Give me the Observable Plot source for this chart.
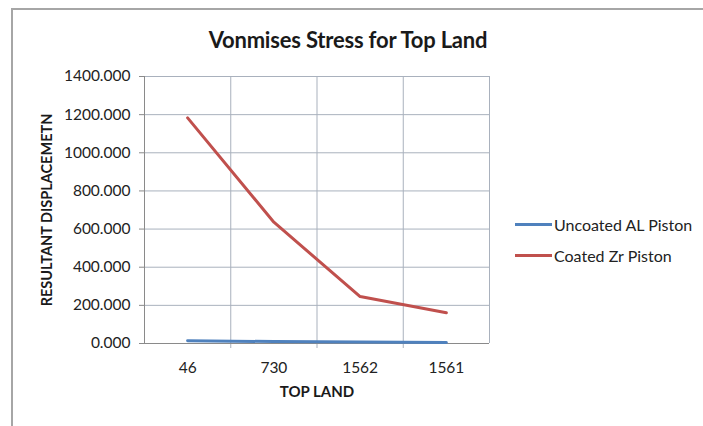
<!DOCTYPE html>
<html>
<head>
<meta charset="utf-8">
<script src="https://cdn.jsdelivr.net/npm/d3@7"></script>
<script src="https://cdn.jsdelivr.net/npm/@observablehq/plot@0.6"></script>
<style>
  html, body { margin: 0; padding: 0; background: #fff; }
  #chart {
    position: relative; width: 703px; height: 426px; overflow: hidden;
    font-family: Lato, "Open Sans", sans-serif; color: #222;
  }
  #frame {
    position: absolute; left: 11px; top: 8px; right: -4px; bottom: -4px;
    border-left: 2px solid #a6a6a6; border-top: 2px solid #a6a6a6;
  }
  #title {
    position: absolute; left: 0; right: 7px; top: 26px; text-align: center;
    font-size: 22px; font-weight: bold; color: #1a1a1a; letter-spacing: -0.2px;
  }
  #plot { position: absolute; left: 0; top: 0; }
  #legend { position: absolute; left: 515px; top: 209px; font-size: 16px; color: #222; }
  .item { display: flex; align-items: center; height: 31px; }
  .swatch { width: 37px; height: 3px; margin-right: 2px; }
</style>
</head>
<body>
<div id="chart">
  <div id="frame"></div>
  <div id="title">Vonmises Stress for Top Land</div>
  <div id="plot"></div>
  <div id="legend"></div>
</div>
<script>
// Top land positions (category labels along the x axis)
const categories = ["46", "730", "1562", "1561"];
// Series values
const uncoatedAL = [15, 10, 8, 5];
const coatedZr = [1183, 636, 246, 161];
const seriesNames = ["Uncoated AL Piston", "Coated Zr Piston"];
const seriesColors = ["#4f81bd", "#c0504d"];
const yTicks = [0, 200, 400, 600, 800, 1000, 1200, 1400];

const rows = [];
[uncoatedAL, coatedZr].forEach((vals, s) =>
  vals.forEach((v, i) => rows.push({series: seriesNames[s], index: i, value: v}))
);
// Category boundaries between the bands
const boundaries = d3.range(1, categories.length).map(i => i - 0.5);

const plot = Plot.plot({
  width: 703,
  height: 426,
  marginLeft: 144,
  marginRight: 214,
  marginTop: 76,
  marginBottom: 83,
  style: {fontFamily: "Lato, 'Open Sans', sans-serif", fontSize: "15.5px", color: "#222", background: "transparent"},
  x: {domain: [-0.5, categories.length - 0.5], ticks: d3.range(categories.length), tickFormat: i => categories[i], label: null},
  y: {domain: [0, 1400], ticks: yTicks, tickFormat: d3.format(".3f"), label: null},
  color: {domain: seriesNames, range: seriesColors},
  marks: [
    Plot.ruleY(yTicks.filter(t => t > 0), {stroke: "#a9b1bd", strokeWidth: 1, strokeOpacity: 1}),
    Plot.ruleX(boundaries, {stroke: "#a9b1bd", strokeWidth: 1, insetBottom: -5}),
    Plot.ruleX([categories.length - 0.5], {stroke: "#a9b1bd", strokeWidth: 1}),
    Plot.axisY({ticks: yTicks, tickFormat: d3.format(".3f"), tickSize: 5, tickPadding: 9, stroke: "#8a8a8a", fontSize: 15.5, fill: "#222"}),
    Plot.axisX({ticks: d3.range(categories.length), tickFormat: i => categories[i], tickSize: 0, tickPadding: 18, fontSize: 15.5, fill: "#222"}),
    Plot.ruleX([-0.5], {stroke: "#8a8a8a", strokeWidth: 1, insetBottom: -1}),
    Plot.ruleY([0], {stroke: "#8a8a8a", strokeWidth: 1, insetLeft: -5}),
    Plot.line(rows, {x: "index", y: "value", z: "series", stroke: "series", strokeWidth: 3, strokeLinejoin: "round"}),
    Plot.text(["TOP LAND"], {frameAnchor: "bottom", dy: 53, fontSize: 15, fontWeight: "bold", fill: "#1a1a1a"}),
    Plot.text(["RESULTANT DISPLACEMETN"], {frameAnchor: "left", dx: -97, rotate: -90, textAnchor: "middle", fontSize: 14.5, fontWeight: "bold", fill: "#1a1a1a"})
  ]
});
document.getElementById("plot").append(plot);

const legend = document.getElementById("legend");
seriesNames.forEach((name, i) => {
  const item = document.createElement("div");
  item.className = "item";
  const sw = document.createElement("span");
  sw.className = "swatch";
  sw.style.background = seriesColors[i];
  const label = document.createElement("span");
  label.textContent = name;
  item.append(sw, label);
  legend.append(item);
});
</script>
</body>
</html>
